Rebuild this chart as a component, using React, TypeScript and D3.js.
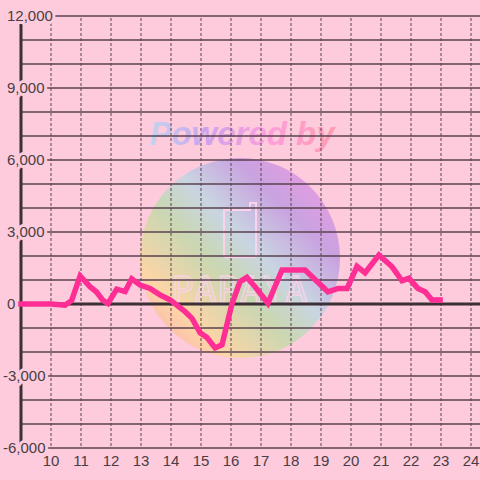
import React from "react";
import * as d3 from "d3";

const hours = [9.0, 10.0, 10.47, 10.69, 10.97, 11.3, 11.52, 11.73, 11.9, 12.19, 12.47, 12.69, 12.97, 13.3, 13.63, 13.97, 14.33, 14.47, 14.7, 14.97, 15.2, 15.47, 15.7, 16.03, 16.3, 16.53, 16.8, 17.23, 17.7, 18.47, 19.23, 19.57, 19.87, 20.2, 20.47, 20.93, 21.37, 21.7, 21.93, 22.23, 22.47, 22.7, 22.97];
const values = [0, 0, -50, 150, 1170, 720, 500, 150, 20, 620, 520, 1050, 790, 650, 380, 170, -180, -320, -600, -1200, -1400, -1830, -1700, 0, 930, 1110, 720, 30, 1420, 1420, 510, 650, 650, 1570, 1300, 2040, 1550, 970, 1070, 650, 510, 170, 170];
const xTicks = [10, 11, 12, 13, 14, 15, 16, 17, 18, 19, 20, 21, 22, 23, 24];
const yGrid = [-6000, -5000, -4000, -3000, -2000, -1000, 1000, 2000, 3000, 4000, 5000, 6000, 7000, 8000, 9000, 10000, 11000, 12000];
const yTicks = [-6000, -3000, 0, 3000, 6000, 9000, 12000];

const W = 480, H = 480;
const BG = "#fdcbdb";
const GRID = "#5a4250";
const AXIS = "#3b3036";
const TEXT = "#4a3d45";
const LINE = "#ff2e95";

export default function App() {
  const x = d3.scaleLinear().domain([9, 24.3]).range([21, 480]);
  const y = d3.scaleLinear().domain([-6000, 12000]).range([448, 16]);
  const line = d3.line<number>().x((_, i) => x(hours[i])).y((v) => y(v));
  const fmt = d3.format(",");

  return (
    <div style={{ position: "fixed", left: 0, top: 0 }}>
      <svg width={W} height={H} style={{ display: "block" }} fontFamily="'Liberation Sans', Arial, sans-serif">
        <defs>
          <linearGradient id="wm" x1="0" y1="1" x2="1" y2="0">
            <stop offset="0" stopColor="#fca0b4" />
            <stop offset="0.22" stopColor="#fdd5a6" />
            <stop offset="0.42" stopColor="#c9d7b2" />
            <stop offset="0.56" stopColor="#c9d5e2" />
            <stop offset="0.74" stopColor="#c9a2e0" />
            <stop offset="1" stopColor="#fb98e2" />
          </linearGradient>
          <linearGradient id="pw" x1="0" y1="0" x2="1" y2="0">
            <stop offset="0" stopColor="#c4d4ee" />
            <stop offset="0.3" stopColor="#cca4ee" />
            <stop offset="0.65" stopColor="#ff9edb" />
            <stop offset="1" stopColor="#ff9cb0" />
          </linearGradient>
        </defs>
        <rect width={W} height={H} fill={BG} />
        {/* watermark */}
        <g>
          <circle cx={240} cy={258} r={100} fill="url(#wm)" />
          <text x={242} y={145} textAnchor="middle" fontSize={33} fontWeight="bold" fontStyle="italic" fill="url(#pw)">Powered by</text>
          <path d="M224,210 h26 v-7 h6 v52 q0,2 -2,2 h-28 q-2,0 -2,-2 z" fill="none" stroke="#fcd3ea" strokeWidth={2} />
          <text x={240} y={302} textAnchor="middle" fontSize={36} fontFamily="'DejaVu Sans Mono', monospace" fill="none" stroke="#fcd3ea" strokeWidth={1.5} letterSpacing={1} opacity={0.9}>PAPAYA</text>
        </g>
        {/* horizontal grid */}
        {yGrid.map((v) => (
          <line key={"h" + v} x1={21} x2={W} y1={y(v)} y2={y(v)} stroke={GRID} strokeWidth={1.5} />
        ))}
        {/* vertical dotted grid */}
        {xTicks.map((t) => (
          <line key={"v" + t} x1={x(t)} x2={x(t)} y1={18} y2={446} stroke={GRID} strokeWidth={1} strokeDasharray="3,2" />
        ))}
        {/* axes */}
        <line x1={21} x2={W} y1={y(0)} y2={y(0)} stroke={AXIS} strokeWidth={3} />
        <line x1={21} x2={21} y1={16} y2={448} stroke={AXIS} strokeWidth={3} />
        {/* series */}
        <path d={line(values) || ""} fill="none" stroke={LINE} strokeWidth={5.5} strokeLinejoin="miter" strokeLinecap="square" />
        {/* y labels */}
        {yTicks.map((v) => (
          <text key={"yl" + v} x={v < 0 ? 3 : 7} y={y(v)} dy="0.36em" fontSize={15} fill={TEXT} stroke={BG} strokeWidth={6} paintOrder="stroke" strokeLinejoin="round">{fmt(v).replace("−", "-")}</text>
        ))}
        {/* x labels */}
        {xTicks.map((t) => (
          <text key={"xl" + t} x={x(t)} y={466} textAnchor="middle" fontSize={15} fill={TEXT}>{t}</text>
        ))}
      </svg>
    </div>
  );
}
